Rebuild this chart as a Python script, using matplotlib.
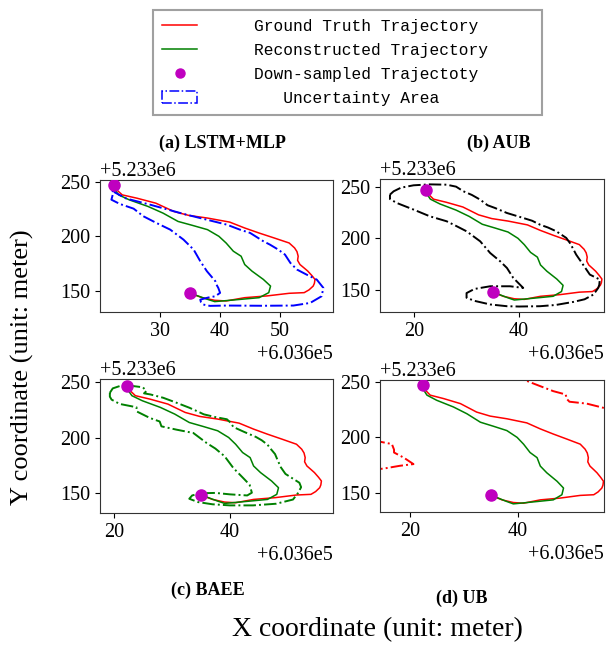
import numpy as np
import matplotlib
matplotlib.use('Agg')
import matplotlib.pyplot as plt
from matplotlib.lines import Line2D
from matplotlib.patches import Patch
from matplotlib.ticker import ScalarFormatter

# UTM offsets (meters)
X_OFF = 603600
Y_OFF = 5233000

# ground truth trajectory (relative to offsets)
gt_x = [22.3, 22.5, 23.7, 26.2, 29.3, 32.3, 34.8, 37.9, 41.6, 44.1, 46.5, 49.0, 51.5,
        52.4, 52.8, 53.0, 52.9, 53.3, 54.0, 54.6, 55.3, 55.8, 55.7, 55.5, 54.8, 54.0,
        51.5, 47.8, 44.1, 41.0, 39.1, 37.0, 35.0]
gt_y = [247.0, 243.9, 237.9, 234.8, 230.3, 222.7, 219.1, 216.7, 213.0, 207.6, 203.0, 198.5, 193.9,
        189.4, 186.0, 181.8, 178.0, 174.2, 171.0, 168.2, 164.0, 160.6, 157.0, 154.5, 151.0, 148.5,
        147.9, 145.5, 143.9, 140.9, 141.5, 143.9, 148.0]

# reconstructed trajectory
rec_x = [22.3, 22.5, 23.1, 24.9, 28.0, 30.5, 33.0, 35.4, 37.9, 39.8, 41.0, 42.2, 43.5,
         44.1, 45.3, 47.2, 48.4, 48.1, 46.5, 43.5, 40.4, 39.1, 37.9, 35.0]
rec_y = [247.0, 242.4, 237.9, 233.3, 227.3, 221.2, 213.6, 210.0, 206.1, 200.0, 193.9, 186.4, 181.8,
         174.2, 168.2, 160.6, 154.5, 148.5, 143.9, 142.4, 140.9, 140.3, 142.4, 148.0]

# down-sampled points
down_x = [22.3, 35.0]
down_y = [247.0, 148.0]

# uncertainty contours
lstm_x = [22.0, 22.5, 24.4, 28.3, 33.9, 38.3, 41.1, 43.3, 45.0, 47.2, 48.3, 49.7, 50.8, 51.7,
          52.8, 54.4, 56.1, 57.2, 56.9, 55.0, 52.2, 47.0, 41.1, 38.3, 37.2, 36.8, 36.7, 38.0,
          39.2, 40.0, 39.7, 39.4, 39.2, 37.8, 36.7, 35.6, 33.9, 31.7, 29.4, 27.2, 25.6, 23.3,
          21.9, 22.2, 22.0]
lstm_y = [243.0, 240.0, 234.5, 229.0, 220.5, 214.5, 210.7, 206.1, 203.1, 195.5, 192.4, 187.8, 183.3, 175.7,
          169.6, 165.0, 160.4, 152.8, 145.2, 139.1, 136.7, 136.5, 136.7, 136.4, 137.6, 140.0, 142.1, 144.0,
          145.2, 148.3, 152.8, 155.8, 159.0, 168.1, 177.2, 187.8, 197.0, 206.1, 212.2, 218.4, 225.3, 229.6,
          233.5, 239.7, 243.0]

aub_x = [15.4, 16.1, 17.5, 19.9, 23.0, 26.2, 28.0, 29.4, 31.0, 32.6, 34.0, 35.4, 37.7, 40.8,
         42.5, 44.0, 45.5, 47.1, 49.0, 49.7, 50.3, 50.9, 52.2, 53.5, 55.4, 55.3, 55.1, 54.2,
         52.5, 50.4, 47.0, 44.0, 40.0, 37.7, 34.5, 31.5, 30.0, 30.0, 31.5, 34.5, 38.3, 40.8,
         38.9, 37.7, 36.4, 34.5, 32.6, 30.0, 28.0, 26.2, 23.0, 19.9, 16.7, 15.4, 15.4]
aub_y = [242.3, 245.5, 249.0, 251.3, 252.2, 251.9, 250.0, 245.5, 242.0, 237.4, 232.0, 229.4, 224.5, 219.7,
         217.0, 213.2, 210.5, 206.8, 200.4, 195.5, 190.0, 184.2, 174.6, 164.9, 160.1, 155.0, 152.0, 145.6,
         141.0, 138.5, 135.5, 134.3, 134.0, 134.3, 136.0, 139.5, 142.5, 147.0, 151.0, 153.6, 153.6, 152.0,
         161.7, 171.3, 177.8, 185.8, 197.1, 206.8, 212.0, 216.5, 221.3, 227.8, 234.2, 238.0, 242.3]

baee_x = [19.3, 19.8, 21.0, 23.0, 25.0, 25.6, 25.2, 26.3, 28.5, 30.8, 33.0, 34.5, 35.5, 37.5,
          39.5, 40.2, 40.6, 42.5, 44.5, 45.5, 46.5, 47.0, 47.8, 48.2, 48.8, 49.6, 50.8, 52.0,
          52.3, 51.8, 50.9, 48.0, 44.0, 40.0, 37.0, 34.5, 33.0, 33.5, 35.0, 37.5, 40.0, 43.0,
          43.8, 43.4, 42.3, 40.6, 39.1, 37.5, 36.0, 33.7, 30.8, 28.2, 27.9, 26.2, 23.9, 23.9,
          21.0, 19.6, 19.3, 19.3]
baee_y = [240.5, 244.5, 246.6, 246.8, 245.5, 242.0, 240.0, 239.0, 236.0, 231.5, 227.0, 223.5, 221.0, 218.5,
          216.5, 213.0, 209.5, 205.0, 200.5, 197.5, 193.5, 190.0, 185.0, 180.0, 173.0, 167.0, 163.0, 159.0,
          155.0, 150.0, 143.8, 140.0, 138.5, 138.5, 139.5, 141.5, 144.5, 147.5, 149.5, 149.8, 148.5, 147.5,
          150.0, 157.3, 163.3, 172.4, 183.0, 190.0, 195.0, 204.1, 207.1, 210.1, 214.5, 217.7, 223.7, 227.4,
          230.4, 234.3, 237.0, 240.5]

ub_upper_x = [39.0, 40.4, 43.0, 46.5, 48.8, 49.0, 49.5, 52.7, 57.7]
ub_upper_y = [256.0, 253.0, 248.0, 241.5, 238.5, 234.5, 232.0, 230.3, 224.2]
ub_lower_x = [13.0, 14.4, 16.6, 17.0, 17.0, 18.8, 20.6, 18.1, 15.1, 13.0]
ub_lower_y = [197.0, 196.1, 194.0, 189.0, 186.4, 181.8, 176.0, 174.5, 172.0, 171.0]

plt.rcParams['font.family'] = 'Liberation Serif'
plt.rcParams['xtick.labelsize'] = 14.5
plt.rcParams['ytick.labelsize'] = 14.5

fig = plt.figure(figsize=(6.14, 6.47), dpi=100)
W, H = 614.0, 647.0


def rect(left, top, right, bottom):
    return [left / W, 1 - bottom / H, (right - left) / W, (bottom - top) / H]


panels = [
    (rect(100, 180, 333, 312), [(lstm_x, lstm_y)], 'blue', (20.0, 58.8), (130.8, 251.5), [30, 40, 50]),
    (rect(380, 179, 604, 312), [(aub_x, aub_y)], 'black', (13.5, 56.2), (128.7, 257.4), [20, 40]),
    (rect(100, 379, 333, 513), [(baee_x, baee_y)], 'green', (17.6, 57.8), (131.6, 253.0), [20, 40]),
    (rect(380, 380, 604, 512), [(ub_upper_x, ub_upper_y), (ub_lower_x, ub_lower_y)], 'red',
     (14.4, 55.9), (133.0, 251.5), [20, 40]),
]

for pos, curves, ucolor, xl, yl, xt in panels:
    ax = fig.add_axes(pos)
    ax.plot(X_OFF + np.array(gt_x), Y_OFF + np.array(gt_y), color='red', lw=1.1)
    ax.plot(X_OFF + np.array(rec_x), Y_OFF + np.array(rec_y), color='green', lw=1.1)
    for cx, cy in curves:
        ax.plot(X_OFF + np.array(cx), Y_OFF + np.array(cy), color=ucolor, ls='-.', lw=1.4)
    ax.plot(X_OFF + np.array(down_x), Y_OFF + np.array(down_y), 'o', color='m', ms=8, zorder=5)
    ax.set_xlim(X_OFF + xl[0], X_OFF + xl[1])
    ax.set_ylim(Y_OFF + yl[0], Y_OFF + yl[1])
    ax.xaxis.set_major_formatter(ScalarFormatter(useOffset=X_OFF))
    ax.yaxis.set_major_formatter(ScalarFormatter(useOffset=Y_OFF))
    ax.set_xticks(X_OFF + np.array(xt))
    ax.set_yticks(Y_OFF + np.array([150, 200, 250]))
    for s in ax.spines.values():
        s.set_color('#333333')

fig.text(222 / W, 1 - 143 / H, '(a) LSTM+MLP', ha='center', va='center', fontsize=13, fontweight='bold')
fig.text(499 / W, 1 - 143 / H, '(b) AUB', ha='center', va='center', fontsize=13, fontweight='bold')
fig.text(208 / W, 1 - 590 / H, '(c) BAEE', ha='center', va='center', fontsize=13, fontweight='bold')
fig.text(462 / W, 1 - 598 / H, '(d) UB', ha='center', va='center', fontsize=13, fontweight='bold')

fig.text(377 / W, 1 - 630 / H, 'X coordinate (unit: meter)', ha='center', va='center', fontsize=20)
fig.text(22 / W, 1 - 367 / H, 'Y coordinate (unit: meter)', ha='center', va='center',
         fontsize=19, rotation=90)

handles = [
    Line2D([], [], color='red', lw=1.1),
    Line2D([], [], color='green', lw=1.1),
    Line2D([], [], ls='none', marker='o', color='m', ms=6.5),
    Patch(facecolor='none', edgecolor='blue', linestyle='-.', lw=1.1),
]
labels = ['Ground Truth Trajectory', 'Reconstructed Trajectory',
          'Down-sampled Trajectoty', '   Uncertainty Area']
leg = fig.legend(handles, labels, loc='upper left', mode='expand',
                 bbox_to_anchor=(153 / W, 1 - 112 / H, 389 / W, 102 / H),
                 prop={'family': 'Liberation Mono', 'size': 11.7},
                 handlelength=2.16, handleheight=0.74, handletextpad=3.5,
                 labelspacing=0.54, borderpad=0.57, borderaxespad=0,
                 fancybox=False, framealpha=1, edgecolor='#a0a0a0')
leg.get_frame().set_linewidth(1.5)

fig.savefig('out.png', dpi=100)
